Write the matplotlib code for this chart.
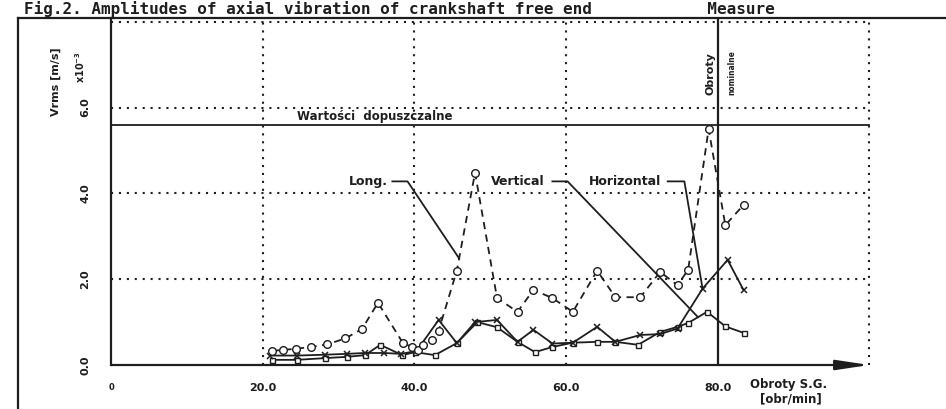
import numpy as np
import matplotlib
matplotlib.use('Agg')
import matplotlib.pyplot as plt

# Obroty S.G. [obr/min] vs Vrms [m/s] x10^-3
long_x = [21.2, 22.7, 24.4, 26.4, 28.5, 30.9, 33.1, 35.2, 38.5, 39.7, 40.5, 41.2, 42.3,
          43.2, 45.6, 48.0, 50.9, 53.6, 55.7, 58.2, 60.9, 64.1, 66.5, 69.8, 72.4, 74.7,
          76.1, 78.8, 81.0, 83.4]
long_y = [0.33, 0.35, 0.38, 0.42, 0.48, 0.62, 0.84, 1.45, 0.51, 0.42, 0.35, 0.47, 0.58,
          0.80, 2.20, 4.48, 1.56, 1.24, 1.75, 1.56, 1.24, 2.20, 1.58, 1.58, 2.17, 1.86,
          2.22, 5.50, 3.26, 3.73]

vert_x = [21.2, 24.5, 28.2, 31.1, 33.5, 35.5, 38.4, 40.1, 42.7, 45.6, 48.3, 50.9, 53.6,
          55.9, 58.2, 60.9, 64.1, 66.5, 69.5, 72.4, 74.7, 76.1, 78.6, 81.0, 83.4]
vert_y = [0.12, 0.12, 0.16, 0.19, 0.23, 0.47, 0.23, 0.30, 0.23, 0.51, 1.00, 0.88, 0.54,
          0.30, 0.42, 0.52, 0.54, 0.54, 0.47, 0.77, 0.89, 0.98, 1.24, 0.90, 0.75]

horiz_x = [21.0, 24.5, 28.2, 31.1, 33.5, 36.0, 38.3, 40.3, 43.2, 45.6, 48.0, 50.9, 53.6,
           55.7, 58.2, 60.9, 64.1, 66.5, 69.8, 72.4, 74.7, 78.0, 81.3, 83.4]
horiz_y = [0.22, 0.22, 0.24, 0.26, 0.28, 0.28, 0.26, 0.33, 1.05, 0.51, 1.00, 1.05, 0.54,
           0.82, 0.50, 0.52, 0.89, 0.54, 0.70, 0.72, 0.85, 1.78, 2.45, 1.75]

LIMIT = 5.6          # wartosci dopuszczalne
NOMINAL = 80.0       # obroty nominalne
XTICKS = [0, 20, 40, 60, 80]
XTICKLABELS = ['0', '20.0', '40.0', '60.0', '80.0']
YTICKS = [0, 2, 4, 6]
YTICKLABELS = ['0.0', '2.0', '4.0', '6.0']

INK = '#1e1e1e'
plt.rcParams['font.family'] = ['DejaVu Sans']
plt.rcParams['font.weight'] = 'bold'

fig = plt.figure(figsize=(9.46, 4.09), dpi=100, facecolor='white')
ax = fig.add_axes([111 / 946, 44 / 409, 766 / 946, 347.5 / 409])
ax.set_xlim(0, 101)
ax.set_ylim(0, 8.1)
ax.set_facecolor('white')

for s in ['top', 'right', 'bottom']:
    ax.spines[s].set_visible(False)
ax.spines['left'].set_color(INK)
ax.spines['left'].set_linewidth(1.6)

# siatka kropkowana
dots = (0, (1, 2.8))
for yv in [2, 4, 6, 8]:
    ax.plot([0, 100], [yv, yv], color=INK, lw=1.5, ls=dots, zorder=1)
for xv in [20, 40, 60, 100]:
    ax.plot([xv, xv], [0, 8], color=INK, lw=1.5, ls=dots, zorder=1)

# os X ze strzalka
ax.annotate('', xy=(100, 0), xytext=(0, 0), annotation_clip=False,
            arrowprops=dict(arrowstyle='-|>,head_length=2.0,head_width=0.3',
                            mutation_scale=10, lw=1.6, color=INK, shrinkA=0, shrinkB=0))

# wartosci dopuszczalne + obroty nominalne
ax.plot([0, 100], [LIMIT, LIMIT], color=INK, lw=1.3, zorder=2)
ax.text(24.5, LIMIT + 0.05, 'Wartości  dopuszczalne', fontsize=8.5, color=INK,
        ha='left', va='bottom')
ax.axvline(NOMINAL, color=INK, lw=1.6, zorder=2)
ax.text(79.0, 6.29, 'Obroty', rotation=90, fontsize=8, color=INK, ha='center', va='bottom')
ax.text(81.8, 6.29, 'nominalne', rotation=90, fontsize=6, color=INK, ha='center',
        va='bottom', fontstretch='condensed')

# serie
ax.plot(long_x, long_y, color=INK, lw=1.3, ls=(0, (4, 3)), marker='o', ms=5.5,
        mfc='white', mec=INK, mew=1.0, zorder=4)
ax.plot(vert_x, vert_y, color=INK, lw=1.3, marker='s', ms=3.6, mfc='white',
        mec=INK, mew=1.0, zorder=3)
ax.plot(horiz_x, horiz_y, color=INK, lw=1.3, marker='x', ms=4, mec=INK, mew=1.1, zorder=3)

# opisy serii z liniami odniesienia
labels = [
    ('Long.', 34.0, (37.1, 39.1), 45.9, long_x, long_y),
    ('Vertical', 53.6, (58.2, 60.2), 77.4, vert_x, vert_y),
    ('Horizontal', 67.8, (73.4, 75.6), 78.0, horiz_x, horiz_y),
]
ly = 4.28
for name, tx, (l0, l1), tip_x, sx, sy in labels:
    ax.text(tx, ly, name, fontsize=9, color=INK, ha='center', va='center')
    tip_y = float(np.interp(tip_x, sx, sy))
    ax.plot([l0, l1, tip_x], [ly, ly, tip_y], color=INK, lw=1.3, zorder=5)

# osie - opisy
ax.set_xticks(XTICKS)
ax.set_xticklabels(XTICKLABELS)
ax.set_yticks(YTICKS)
ax.set_yticklabels(YTICKLABELS, rotation=90, va='center')
ax.tick_params(axis='x', length=0, pad=13, labelsize=8, labelcolor=INK)
ax.tick_params(axis='y', length=0, pad=15, labelsize=8, labelcolor=INK)
ax.get_xticklabels()[0].set_fontsize(6)

ax.text(89.3, -0.45, 'Obroty S.G.', fontsize=8.5, color=INK, ha='center', va='center',
        clip_on=False)
ax.text(89.6, -0.80, '[obr/min]', fontsize=8.5, color=INK, ha='center', va='center',
        clip_on=False)

fig.text(56 / 946, 1 - 82 / 409, 'Vrms [m/s]', rotation=90, fontsize=8, color=INK,
         ha='center', va='center')
fig.text(80 / 946, 1 - 67 / 409, r'x10$^{-3}$', rotation=90, fontsize=7, color=INK,
         ha='center', va='center')

# ramka i tytul
fig.add_artist(plt.Line2D([18 / 946, 18 / 946], [0, 1 - 18 / 409], color=INK, lw=1.6))
fig.add_artist(plt.Line2D([18 / 946, 1], [1 - 18 / 409, 1 - 18 / 409], color=INK, lw=1.6))
fig.text(24 / 946, 1 - 14 / 409,
         'Fig.2. Amplitudes of axial vibration of crankshaft free end            Measure',
         family='DejaVu Sans Mono', fontsize=11.5, color=INK, ha='left', va='baseline')

fig.savefig('out.png', dpi=100, facecolor='white')
